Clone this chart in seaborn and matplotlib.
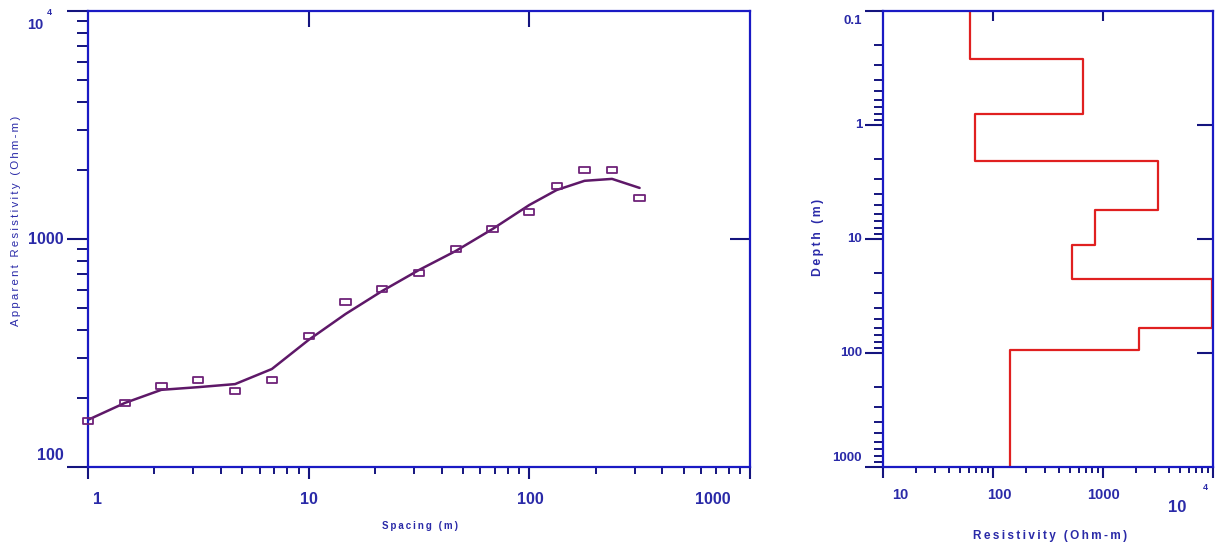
import numpy as np
import matplotlib
matplotlib.use("Agg")
import matplotlib.pyplot as plt
from matplotlib.path import Path
from matplotlib.ticker import LogLocator, NullLocator, NullFormatter
import seaborn as sns

# Sounding curve: electrode spacing (m) against apparent resistivity (Ohm-m)
spacing = [1, 1.47, 2.15, 3.16, 4.64, 6.81, 10, 14.7, 21.5, 31.6, 46.4, 68.1,
           100, 133, 178, 237, 316]
rho_observed = [159, 191, 227, 241, 215, 241, 375, 529, 604, 709, 904, 1106,
                1314, 1710, 2010, 2010, 1514]
rho_calculated = [161, 191, 218, 224, 231, 269, 361, 469, 591, 731, 886, 1106,
                  1410, 1640, 1800, 1835, 1675]

# Layered earth model: resistivity of each layer and depth of its base (m)
layer_resistivity = [62.3, 663, 68, 3150, 847, 524, 9800, 2120, 144]
layer_bottom = [0.264, 0.80, 2.07, 5.57, 11.3, 22.4, 60.4, 94.2, 1000]
model_top = 0.1

spacing_ticks = [1, 10, 100, 1000]
spacing_labels = ["1", "10", "100", "1000"]
app_rho_ticks = [100, 1000]
app_rho_labels = ["100", "1000"]
res_ticks = [10, 100, 1000]
res_labels = ["10", "100", "1000"]
depth_ticks = [0.1, 1, 10, 100, 1000]
depth_labels = ["0.1", "1", "10", "100", "1000"]

SPINE = "#1a1ac4"
TICK = "#14147e"
LABEL = "#2a2aa8"
CURVE = "#5e1868"
MARK = "#6e2278"
MODEL = "#e02020"

sns.set_style("white")
plt.rcParams["font.family"] = ["Liberation Sans", "DejaVu Sans"]

W, H = 1215, 549
fig = plt.figure(figsize=(W / 100, H / 100), dpi=100)
ax = fig.add_axes([88 / W, 1 - 467 / H, 662 / W, 456 / H])
ax2 = fig.add_axes([883 / W, 1 - 467 / H, 330 / W, 456 / H])

PX = 0.72  # points per pixel at 100 dpi


def style_frame(a):
    for s in a.spines.values():
        s.set_visible(True)
        s.set_color(SPINE)
        s.set_linewidth(1.6)
    a.set_facecolor("white")


def label_at(a, text, xy, coords, dx, dy, size, ha="center", weight="bold"):
    a.annotate(text, xy=xy, xycoords=coords, xytext=(dx * PX, dy * PX),
               textcoords="offset points", ha=ha, va="center",
               fontsize=size, fontweight=weight, color=LABEL,
               annotation_clip=False)


def inner_ticks(a, which, ticks, length):
    if which == "top":
        sec = a.secondary_xaxis("top")
        sec.set_xticks(ticks)
        sec.xaxis.set_minor_locator(NullLocator())
        sec.xaxis.set_major_formatter(NullFormatter())
    else:
        sec = a.secondary_yaxis("right")
        sec.set_yticks(ticks)
        sec.yaxis.set_minor_locator(NullLocator())
        sec.yaxis.set_major_formatter(NullFormatter())
    sec.tick_params(direction="in", length=length * PX, width=1.5, color=TICK)
    for s in sec.spines.values():
        s.set_visible(False)


# ---------------- sounding curve ----------------
ax.set_xscale("log")
ax.set_yscale("log")
sns.lineplot(x=spacing, y=rho_calculated, ax=ax, color=CURVE, linewidth=1.8,
             estimator=None, sort=False)
rect = Path([(-1, -0.55), (1, -0.55), (1, 0.55), (-1, 0.55), (-1, -0.55)],
            [Path.MOVETO, Path.LINETO, Path.LINETO, Path.LINETO, Path.CLOSEPOLY])
sns.scatterplot(x=spacing, y=rho_observed, ax=ax, marker=rect, s=55,
                color=MARK, linewidth=1.3, zorder=3, clip_on=False)
ax.collections[-1].set_facecolor("none")
ax.collections[-1].set_edgecolor(MARK)

ax.set_xlim(1, 1000)
ax.set_ylim(100, 10000)
style_frame(ax)
ax.xaxis.set_major_locator(LogLocator(base=10))
ax.xaxis.set_minor_locator(LogLocator(base=10, subs=np.arange(2, 10)))
ax.yaxis.set_major_locator(LogLocator(base=10))
ax.yaxis.set_minor_locator(LogLocator(base=10, subs=np.arange(2, 10)))
ax.tick_params(axis="x", which="major", direction="out", length=12 * PX,
               width=1.5, color=TICK, labelbottom=False, bottom=True)
ax.tick_params(axis="x", which="minor", direction="out", length=7 * PX,
               width=1.4, color=TICK, bottom=True)
ax.tick_params(axis="y", which="major", direction="out", length=21 * PX,
               width=1.5, color=TICK, labelleft=False, left=True)
ax.tick_params(axis="y", which="minor", direction="out", length=11 * PX,
               width=1.4, color=TICK, left=True)
ax.set_xlabel("")
ax.set_ylabel("")
inner_ticks(ax, "top", [10, 100], 16)
inner_ticks(ax, "right", [1000], 20)

xcoords = ("data", "axes fraction")
ycoords = ("axes fraction", "data")
for v, s, dx in zip(spacing_ticks, spacing_labels, [10, 0, 1, -37]):
    label_at(ax, s, (v, 0), xcoords, dx, -33, 11.5)
for v, s, dy in zip(app_rho_ticks, app_rho_labels, [12, 0]):
    label_at(ax, s, (0, v), ycoords, -24, dy, 11.5, ha="right")
label_at(ax, "10", (0, 10000), ycoords, -53, -14, 10.5)
label_at(ax, "4", (0, 10000), ycoords, -38.5, -1.5, 6.5)

# ---------------- layered model ----------------
step_x, step_y = [], []
top = model_top
for r, b in zip(layer_resistivity, layer_bottom):
    step_x += [r, r]
    step_y += [top, b]
    top = b

ax2.set_xscale("log")
ax2.set_yscale("log")
sns.lineplot(x=step_x, y=step_y, ax=ax2, color=MODEL, linewidth=1.6,
             estimator=None, sort=False)
ax2.set_xlim(10, 10000)
ax2.set_ylim(1000, 0.1)
style_frame(ax2)
ax2.xaxis.set_major_locator(LogLocator(base=10))
ax2.xaxis.set_minor_locator(LogLocator(base=10, subs=np.arange(2, 10)))
ax2.yaxis.set_major_locator(LogLocator(base=10))
ax2.yaxis.set_minor_locator(LogLocator(base=10, subs=np.arange(2, 10)))
ax2.tick_params(axis="x", which="major", direction="out", length=11 * PX,
                width=1.5, color=TICK, labelbottom=False, bottom=True)
ax2.tick_params(axis="x", which="minor", direction="out", length=6 * PX,
                width=1.4, color=TICK, bottom=True)
ax2.tick_params(axis="y", which="major", direction="out", length=18 * PX,
                width=1.5, color=TICK, labelleft=False, left=True)
ax2.tick_params(axis="y", which="minor", direction="out", length=9 * PX,
                width=1.4, color=TICK, left=True)
ax2.set_xlabel("")
ax2.set_ylabel("")
inner_ticks(ax2, "top", [100, 1000], 10)
inner_ticks(ax2, "right", [1, 10, 100], 16)

for v, s, dx in zip(res_ticks, res_labels, [17, 6, 1]):
    label_at(ax2, s, (v, 0), xcoords, dx, -28, 10.5)
label_at(ax2, "10", (10000, 0), xcoords, -35.5, -40, 12)
label_at(ax2, "4", (10000, 0), xcoords, -7.5, -21, 6.5)
for v, s, dy in zip(depth_ticks, depth_labels, [-10, 0, 0, 0, 9]):
    label_at(ax2, s, (0, v), ycoords, -21, dy, 9.5, ha="right")


def spaced(text):
    return "\u2009".join(text)


fig.text(16 / W, 1 - 221 / H, spaced("Apparent Resistivity (Ohm-m)"),
         rotation=90, ha="center", va="center", fontsize=8.2, color=LABEL)
fig.text(420 / W, 1 - 526 / H, spaced("Spacing (m)"), ha="center",
         va="center", fontsize=7, fontweight="bold", color=LABEL)
fig.text(1050 / W, 1 - 536 / H, spaced("Resistivity (Ohm-m)"), ha="center",
         va="center", fontsize=8.5, fontweight="bold", color=LABEL)
fig.text(818 / W, 1 - 237 / H, spaced("Depth (m)"), rotation=90, ha="center",
         va="center", fontsize=8.8, fontweight="bold", color=LABEL)

fig.savefig("out.png", dpi=100, facecolor="white")
